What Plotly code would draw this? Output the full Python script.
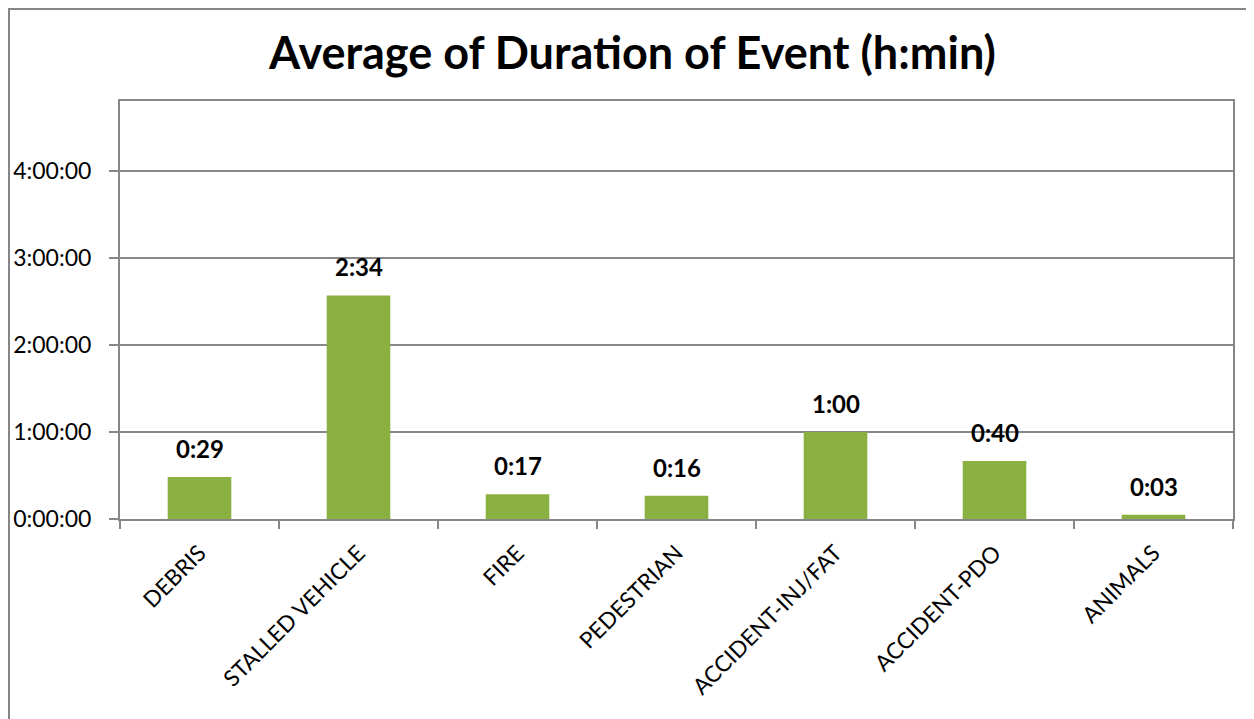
import plotly.graph_objects as go

categories = ["DEBRIS", "STALLED VEHICLE", "FIRE", "PEDESTRIAN",
              "ACCIDENT-INJ/FAT", "ACCIDENT-PDO", "ANIMALS"]
minutes = [29, 154, 17, 16, 60, 40, 3]
tick_minutes = [0, 60, 120, 180, 240]
tick_labels = ["0:00:00", "1:00:00", "2:00:00", "3:00:00", "4:00:00"]
title_text = "Average of Duration of Event (h:min)"

# page body has an 8px margin, so the figure is placed at (8, 8)
W, H = 1246, 711
ML, MR, MT, MB = 112, 21, 93, 200
FONT = "Lato"
GRID = "#878787"


def hmm(m):
    return f"{int(m) // 60}:{int(m) % 60:02d}"


fig = go.Figure()
fig.add_trace(go.Bar(
    x=categories, y=minutes, width=0.4,
    marker=dict(color="#8AB042", line=dict(width=0)),
    hoverinfo="skip", showlegend=False,
))

for c, m in zip(categories, minutes):
    fig.add_annotation(x=c, y=m, text=f"<b>{hmm(m)}</b>", showarrow=False,
                       yanchor="bottom", yshift=12,
                       font=dict(family=FONT, size=24, color="#000000"))

pw, ph = W - ML - MR, H - MT - MB
# outer chart border (left and top edges visible)
fig.add_shape(type="rect", xref="paper", yref="paper",
              x0=(1 - ML) / pw, x1=(W + 10 - ML) / pw,
              y0=(H - MB - (H + 10)) / ph, y1=(H - MB - 1) / ph,
              line=dict(color="#868686", width=2), fillcolor="rgba(0,0,0,0)")

fig.update_layout(
    width=W, height=H,
    margin=dict(l=ML, r=MR, t=MT, b=MB),
    paper_bgcolor="white", plot_bgcolor="white",
    title=dict(text=f"<b>{title_text}</b>", x=624.5 / W, xanchor="center",
               y=1 - 45 / H, yanchor="middle",
               font=dict(family=FONT, size=45, color="#000000")),
    font=dict(family=FONT, color="#000000"),
    bargap=0.6,
)
fig.update_xaxes(type="category", tickson="boundaries", ticks="outside",
                 ticklen=8, tickwidth=2, tickcolor=GRID,
                 showline=True, linecolor=GRID, linewidth=2, mirror=True,
                 showgrid=False, tickangle=-45, ticklabelstandoff=10,
                 automargin=False,
                 tickfont=dict(family=FONT, size=22.5, color="#000000"))
fig.update_yaxes(range=[0, 288], tickvals=tick_minutes, ticktext=tick_labels,
                 ticks="outside", ticklen=9, tickwidth=2, tickcolor=GRID,
                 showline=True, linecolor=GRID, linewidth=2, mirror=True,
                 showgrid=True, gridcolor=GRID, gridwidth=2, zeroline=False,
                 ticklabelstandoff=13, automargin=False,
                 tickfont=dict(family=FONT, size=23, color="#000000"))

fig.write_html("out.html")
